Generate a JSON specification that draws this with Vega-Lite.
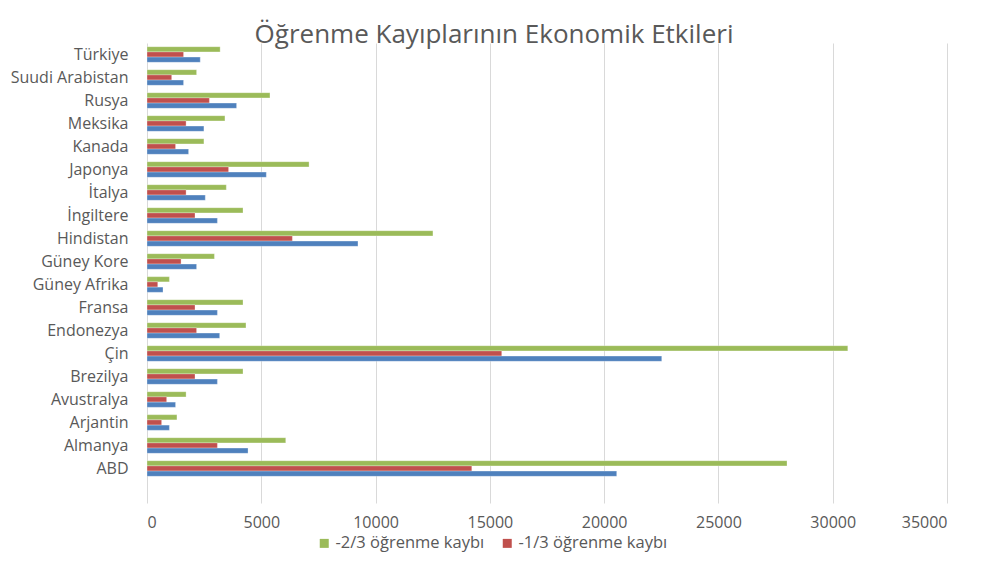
{
  "$schema": "https://vega.github.io/schema/vega-lite/v6.json",
  "autosize": "none",
  "width": 800,
  "height": 460,
  "padding": {"left": 147, "top": 43, "right": 34, "bottom": 59},
  "background": "white",
  "title": {
    "text": "Öğrenme Kayıplarının Ekonomik Etkileri",
    "anchor": "middle",
    "dx": -53,
    "offset": -5,
    "fontSize": 26,
    "font": "Open Sans",
    "fontWeight": "normal",
    "color": "#595959"
  },
  "data": {
    "values": [
      {"ulke": "Türkiye", "seri": "-2/3 öğrenme kaybı", "deger": 3200},
      {"ulke": "Türkiye", "seri": "-1/3 öğrenme kaybı", "deger": 1600},
      {"ulke": "Türkiye", "seri": "-1/2 öğrenme kaybı", "deger": 2330},
      {"ulke": "Suudi Arabistan", "seri": "-2/3 öğrenme kaybı", "deger": 2170},
      {"ulke": "Suudi Arabistan", "seri": "-1/3 öğrenme kaybı", "deger": 1080},
      {"ulke": "Suudi Arabistan", "seri": "-1/2 öğrenme kaybı", "deger": 1600},
      {"ulke": "Rusya", "seri": "-2/3 öğrenme kaybı", "deger": 5380},
      {"ulke": "Rusya", "seri": "-1/3 öğrenme kaybı", "deger": 2730},
      {"ulke": "Rusya", "seri": "-1/2 öğrenme kaybı", "deger": 3920},
      {"ulke": "Meksika", "seri": "-2/3 öğrenme kaybı", "deger": 3410},
      {"ulke": "Meksika", "seri": "-1/3 öğrenme kaybı", "deger": 1710},
      {"ulke": "Meksika", "seri": "-1/2 öğrenme kaybı", "deger": 2490},
      {"ulke": "Kanada", "seri": "-2/3 öğrenme kaybı", "deger": 2490},
      {"ulke": "Kanada", "seri": "-1/3 öğrenme kaybı", "deger": 1250},
      {"ulke": "Kanada", "seri": "-1/2 öğrenme kaybı", "deger": 1820},
      {"ulke": "Japonya", "seri": "-2/3 öğrenme kaybı", "deger": 7090},
      {"ulke": "Japonya", "seri": "-1/3 öğrenme kaybı", "deger": 3570},
      {"ulke": "Japonya", "seri": "-1/2 öğrenme kaybı", "deger": 5220},
      {"ulke": "İtalya", "seri": "-2/3 öğrenme kaybı", "deger": 3470},
      {"ulke": "İtalya", "seri": "-1/3 öğrenme kaybı", "deger": 1710},
      {"ulke": "İtalya", "seri": "-1/2 öğrenme kaybı", "deger": 2550},
      {"ulke": "İngiltere", "seri": "-2/3 öğrenme kaybı", "deger": 4200},
      {"ulke": "İngiltere", "seri": "-1/3 öğrenme kaybı", "deger": 2100},
      {"ulke": "İngiltere", "seri": "-1/2 öğrenme kaybı", "deger": 3080},
      {"ulke": "Hindistan", "seri": "-2/3 öğrenme kaybı", "deger": 12510},
      {"ulke": "Hindistan", "seri": "-1/3 öğrenme kaybı", "deger": 6360},
      {"ulke": "Hindistan", "seri": "-1/2 öğrenme kaybı", "deger": 9230},
      {"ulke": "Güney Kore", "seri": "-2/3 öğrenme kaybı", "deger": 2950},
      {"ulke": "Güney Kore", "seri": "-1/3 öğrenme kaybı", "deger": 1490},
      {"ulke": "Güney Kore", "seri": "-1/2 öğrenme kaybı", "deger": 2170},
      {"ulke": "Güney Afrika", "seri": "-2/3 öğrenme kaybı", "deger": 980},
      {"ulke": "Güney Afrika", "seri": "-1/3 öğrenme kaybı", "deger": 470},
      {"ulke": "Güney Afrika", "seri": "-1/2 öğrenme kaybı", "deger": 700},
      {"ulke": "Fransa", "seri": "-2/3 öğrenme kaybı", "deger": 4200},
      {"ulke": "Fransa", "seri": "-1/3 öğrenme kaybı", "deger": 2100},
      {"ulke": "Fransa", "seri": "-1/2 öğrenme kaybı", "deger": 3080},
      {"ulke": "Endonezya", "seri": "-2/3 öğrenme kaybı", "deger": 4330},
      {"ulke": "Endonezya", "seri": "-1/3 öğrenme kaybı", "deger": 2170},
      {"ulke": "Endonezya", "seri": "-1/2 öğrenme kaybı", "deger": 3180},
      {"ulke": "Çin", "seri": "-2/3 öğrenme kaybı", "deger": 30660},
      {"ulke": "Çin", "seri": "-1/3 öğrenme kaybı", "deger": 15520},
      {"ulke": "Çin", "seri": "-1/2 öğrenme kaybı", "deger": 22520},
      {"ulke": "Brezilya", "seri": "-2/3 öğrenme kaybı", "deger": 4200},
      {"ulke": "Brezilya", "seri": "-1/3 öğrenme kaybı", "deger": 2100},
      {"ulke": "Brezilya", "seri": "-1/2 öğrenme kaybı", "deger": 3080},
      {"ulke": "Avustralya", "seri": "-2/3 öğrenme kaybı", "deger": 1710},
      {"ulke": "Avustralya", "seri": "-1/3 öğrenme kaybı", "deger": 860},
      {"ulke": "Avustralya", "seri": "-1/2 öğrenme kaybı", "deger": 1250},
      {"ulke": "Arjantin", "seri": "-2/3 öğrenme kaybı", "deger": 1310},
      {"ulke": "Arjantin", "seri": "-1/3 öğrenme kaybı", "deger": 640},
      {"ulke": "Arjantin", "seri": "-1/2 öğrenme kaybı", "deger": 980},
      {"ulke": "Almanya", "seri": "-2/3 öğrenme kaybı", "deger": 6070},
      {"ulke": "Almanya", "seri": "-1/3 öğrenme kaybı", "deger": 3080},
      {"ulke": "Almanya", "seri": "-1/2 öğrenme kaybı", "deger": 4420},
      {"ulke": "ABD", "seri": "-2/3 öğrenme kaybı", "deger": 28000},
      {"ulke": "ABD", "seri": "-1/3 öğrenme kaybı", "deger": 14210},
      {"ulke": "ABD", "seri": "-1/2 öğrenme kaybı", "deger": 20550}
    ]
  },
  "mark": {"type": "bar", "stroke": "white", "strokeWidth": 0.5, "strokeOpacity": 0.6},
  "encoding": {
    "y": {
      "field": "ulke",
      "type": "nominal",
      "title": null,
      "scale": {
        "domain": ["Türkiye", "Suudi Arabistan", "Rusya", "Meksika", "Kanada", "Japonya", "İtalya", "İngiltere", "Hindistan", "Güney Kore", "Güney Afrika", "Fransa", "Endonezya", "Çin", "Brezilya", "Avustralya", "Arjantin", "Almanya", "ABD", " "],
        "paddingInner": 0.32,
        "paddingOuter": 0.16
      },
      "axis": {
        "domain": false,
        "ticks": false,
        "labelPadding": 19,
        "labelFontSize": 16,
        "labelFont": "Open Sans",
        "labelColor": "#595959",
        "labelLimit": 200
      }
    },
    "yOffset": {
      "field": "seri",
      "type": "nominal",
      "scale": {"domain": ["-2/3 öğrenme kaybı", "-1/3 öğrenme kaybı", "-1/2 öğrenme kaybı"], "paddingInner": 0, "paddingOuter": 0}
    },
    "x": {
      "field": "deger",
      "type": "quantitative",
      "title": null,
      "scale": {"domain": [0, 35000], "nice": false},
      "axis": {
        "values": [0, 5000, 10000, 15000, 20000, 25000, 30000, 35000],
        "format": "d",
        "domain": false,
        "ticks": false,
        "grid": true,
        "gridColor": "#D9D9D9",
        "gridWidth": 1,
        "labelPadding": 11,
        "labelFontSize": 16,
        "labelFont": "Open Sans",
        "labelColor": "#595959"
      }
    },
    "color": {
      "field": "seri",
      "type": "nominal",
      "scale": {
        "domain": ["-2/3 öğrenme kaybı", "-1/3 öğrenme kaybı", "-1/2 öğrenme kaybı"],
        "range": ["#9BBB59", "#C0504D", "#4F81BD"]
      },
      "legend": {
        "values": ["-2/3 öğrenme kaybı", "-1/3 öğrenme kaybı"],
        "title": null,
        "orient": "none",
        "direction": "horizontal",
        "legendX": 169,
        "legendY": 492,
        "symbolType": "square",
        "symbolSize": 81,
        "symbolStrokeWidth": 0,
        "labelFontSize": 16.5,
        "labelFont": "Open Sans",
        "labelColor": "#595959",
        "columnPadding": 14,
        "labelOffset": 3
      }
    }
  },
  "config": {
    "view": {"stroke": null}
  }
}
